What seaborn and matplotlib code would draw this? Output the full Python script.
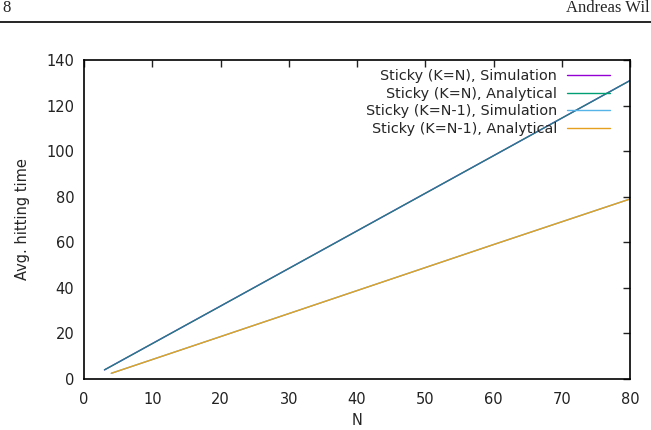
import numpy as np
import pandas as pd
import matplotlib
matplotlib.use("Agg")
import matplotlib.pyplot as plt
import seaborn as sns

# values (straight lines, a few readings each)
n_kn = [3, 20, 40, 60, 80]
sim_kn = [4.0, 32.0, 65.0, 98.0, 131.0]
ana_kn = [4.0, 32.0, 65.0, 98.0, 131.0]
n_kn1 = [4, 20, 40, 60, 80]
sim_kn1 = [2.5, 18.6, 38.8, 59.0, 79.0]
ana_kn1 = [2.5, 18.6, 38.8, 59.0, 79.0]

labels = ["Sticky (K=N), Simulation", "Sticky (K=N), Analytical",
          "Sticky (K=N-1), Simulation", "Sticky (K=N-1), Analytical"]
colors = ["#9400d3", "#009e73", "#56b4e9", "#e6a020"]

df = pd.concat([
    pd.DataFrame({"N": n_kn, "t": sim_kn, "series": labels[0]}),
    pd.DataFrame({"N": n_kn, "t": ana_kn, "series": labels[1]}),
    pd.DataFrame({"N": n_kn1, "t": sim_kn1, "series": labels[2]}),
    pd.DataFrame({"N": n_kn1, "t": ana_kn1, "series": labels[3]}),
])

sns.set_style("white")
plt.rcParams["font.family"] = "DejaVu Sans"

fig = plt.figure(figsize=(6.51, 4.30), dpi=100)
ax = fig.add_axes([0.129, 0.1186, 0.839, 0.742])

sns.lineplot(data=df, x="N", y="t", hue="series", hue_order=labels,
             palette=colors, lw=1.0, ax=ax, sort=False)
# overlapping K=N lines blend to a teal in the original
ax.lines[1].set_alpha(0.8)

ax.set_xlim(0, 80)
ax.set_ylim(0, 140)
ax.set_xticks(range(0, 81, 10))
ax.set_yticks(range(0, 141, 20))
ax.tick_params(direction="in", length=5, width=1, labelsize=10.5, colors="#222222",
               top=True, right=True)
ax.tick_params(axis="x", pad=9)
ax.tick_params(axis="y", pad=7)
for s in ax.spines.values():
    s.set_linewidth(1.2)
    s.set_color("black")
ax.set_xlabel("N", fontsize=10.5, labelpad=5)
ax.set_ylabel("Avg. hitting time", fontsize=10.5, labelpad=12)

leg = ax.legend(loc="upper right", frameon=False, markerfirst=False, fontsize=10.4,
                handlelength=3.0, handletextpad=0.65, labelspacing=0.25,
                bbox_to_anchor=(0.987, 1.012), title=None)
for t in leg.get_texts():
    t.set_ha("right")
leg._legend_box.align = "right"

# page header
fig.text(0.003, 1 - 12 / 430, "8", family="Liberation Serif", fontsize=12, va="baseline")
fig.text(0.998, 1 - 12 / 430, "Andreas Wil", family="Liberation Serif", fontsize=12,
         va="baseline", ha="right")
fig.add_artist(plt.Line2D([0, 1], [1 - 22 / 430, 1 - 22 / 430], color="black", lw=1.2,
                          transform=fig.transFigure))

fig.savefig("out.png", dpi=100)
